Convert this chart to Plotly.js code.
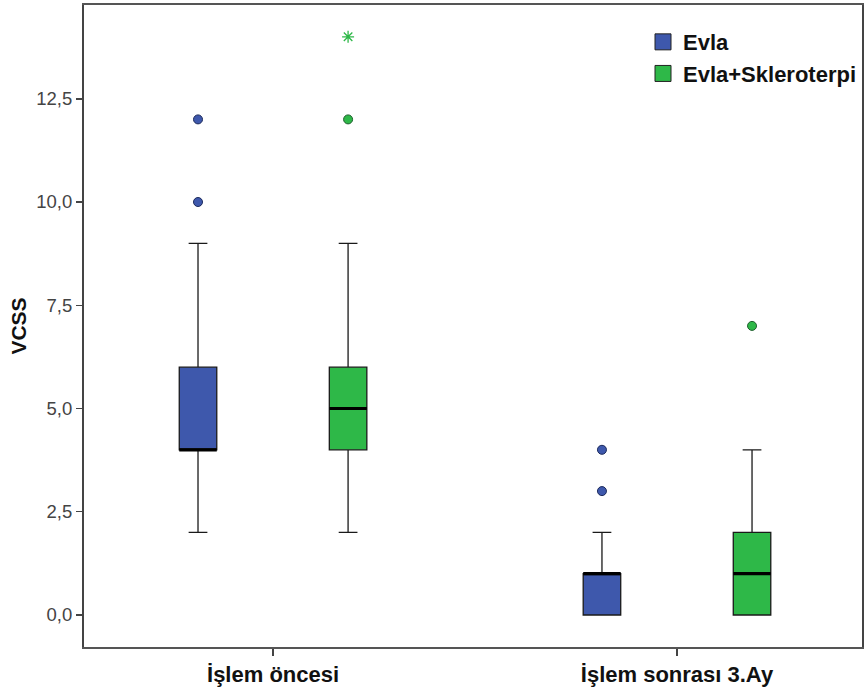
<!DOCTYPE html>
<html>
<head>
<meta charset="utf-8">
<script src="https://cdn.plot.ly/plotly-3.0.1.min.js"></script>
<style>html,body{margin:0;padding:0;background:#fff;}#chart{width:864px;height:698px;}</style>
</head>
<body>
<div id="chart"></div>
<script>
// ---- data ----
var categories = ['İşlem öncesi', 'İşlem sonrası 3.Ay'];
var seriesNames = ['Evla', 'Evla+Skleroterpi'];

var evlaLow    = [2, 0];
var evlaQ1     = [4, 0];
var evlaMedian = [4, 1];
var evlaQ3     = [6, 1];
var evlaHigh   = [9, 2];

var skLow    = [2, 0];
var skQ1     = [4, 0];
var skMedian = [5, 1];
var skQ3     = [6, 2];
var skHigh   = [9, 4];

var evlaOutX = ['İşlem öncesi', 'İşlem öncesi', 'İşlem sonrası 3.Ay', 'İşlem sonrası 3.Ay'];
var evlaOutY = [10, 12, 3, 4];
var skOutX = ['İşlem öncesi', 'İşlem sonrası 3.Ay'];
var skOutY = [12, 7];
var skExtremeX = ['İşlem öncesi'];
var skExtremeY = [14];

var yTicks = [0, 2.5, 5, 7.5, 10, 12.5];

// ---- styles ----
var blue = '#3E58AC', green = '#2EB848';
var FONT = 'Liberation Sans, Arial, sans-serif';

function boxTrace(name, low, q1, med, q3, high, color, grp) {
  return {
    type: 'box', name: name, x: categories,
    lowerfence: low, q1: q1, median: med, q3: q3, upperfence: high,
    fillcolor: color, line: {color: '#1a1a1a', width: 1.3},
    whiskerwidth: 0.5, offsetgroup: grp, showlegend: false, hoverinfo: 'skip'
  };
}
function medianTrace(name, med, grp) {
  return {
    type: 'box', name: name + ' median', x: categories,
    lowerfence: med, q1: med, median: med, q3: med, upperfence: med,
    fillcolor: 'rgba(0,0,0,0)', line: {color: '#000', width: 3.2},
    whiskerwidth: 0, offsetgroup: grp, showlegend: false, hoverinfo: 'skip'
  };
}

var traces = [
  boxTrace(seriesNames[0], evlaLow, evlaQ1, evlaMedian, evlaQ3, evlaHigh, blue, 'a'),
  boxTrace(seriesNames[1], skLow, skQ1, skMedian, skQ3, skHigh, green, 'b'),
  medianTrace(seriesNames[0], evlaMedian, 'a'),
  medianTrace(seriesNames[1], skMedian, 'b'),
  {type: 'scatter', mode: 'markers', x: evlaOutX, y: evlaOutY, offsetgroup: 'a',
   marker: {color: blue, size: 9, line: {color: '#1c2a5c', width: 1}}, showlegend: false, hoverinfo: 'skip'},
  {type: 'scatter', mode: 'markers', x: skOutX, y: skOutY, offsetgroup: 'b',
   marker: {color: green, size: 9, line: {color: '#1d5e2c', width: 1}}, showlegend: false, hoverinfo: 'skip'},
  {type: 'scatter', mode: 'markers', x: skExtremeX, y: skExtremeY, offsetgroup: 'b',
   marker: {symbol: 'asterisk-open', color: green, size: 10, line: {color: green, width: 1.3}}, showlegend: false, hoverinfo: 'skip'},
  // legend entries
  {type: 'scatter', mode: 'markers', x: [null], y: [null], name: seriesNames[0], offsetgroup: 'a', legendgroup: 'g1',
   marker: {symbol: 'square', color: blue, size: 16, line: {color: '#222', width: 1}}},
  {type: 'scatter', mode: 'markers', x: [null], y: [null], name: seriesNames[1], offsetgroup: 'b', legendgroup: 'g2',
   marker: {symbol: 'square', color: green, size: 16, line: {color: '#222', width: 1}}}
];

var layout = {
  width: 864, height: 698,
  margin: {l: 84, r: 2, t: 5, b: 51},
  paper_bgcolor: '#fff', plot_bgcolor: '#fff',
  boxmode: 'group', boxgap: 0.257, boxgroupgap: 0.75,
  scattermode: 'group', scattergap: 0.257,
  separators: ',.',
  font: {family: FONT, color: '#222'},
  xaxis: {
    type: 'category', categoryarray: categories, range: [-0.468, 1.458],
    showgrid: false, zeroline: false,
    showline: true, linecolor: '#555', linewidth: 2, mirror: true,
    ticks: 'outside', ticklen: 7, tickcolor: '#444', tickwidth: 1.5,
    tickfont: {family: FONT, size: 22, color: '#111', weight: 'bold'}
  },
  yaxis: {
    range: [-0.775, 14.77], tickvals: yTicks, tickformat: '.1f',
    showgrid: false, zeroline: false,
    showline: true, linecolor: '#444', linewidth: 2, mirror: true,
    ticks: 'outside', ticklen: 6, tickcolor: '#444', tickwidth: 1.5,
    tickfont: {family: FONT, size: 18.5, color: '#444'},
    title: {text: 'VCSS', font: {family: FONT, size: 21, color: '#111', weight: 'bold'}, standoff: 4}
  },
  legend: {
    x: 1, y: 0.975, xanchor: 'right', yanchor: 'top',
    bgcolor: 'rgba(0,0,0,0)', traceorder: 'grouped', tracegroupgap: 0,
    font: {family: FONT, size: 22, color: '#111', weight: 'bold'}
  },
  showlegend: true
};

Plotly.newPlot('chart', traces, layout, {staticPlot: true, displayModeBar: false});
</script>
</body>
</html>
